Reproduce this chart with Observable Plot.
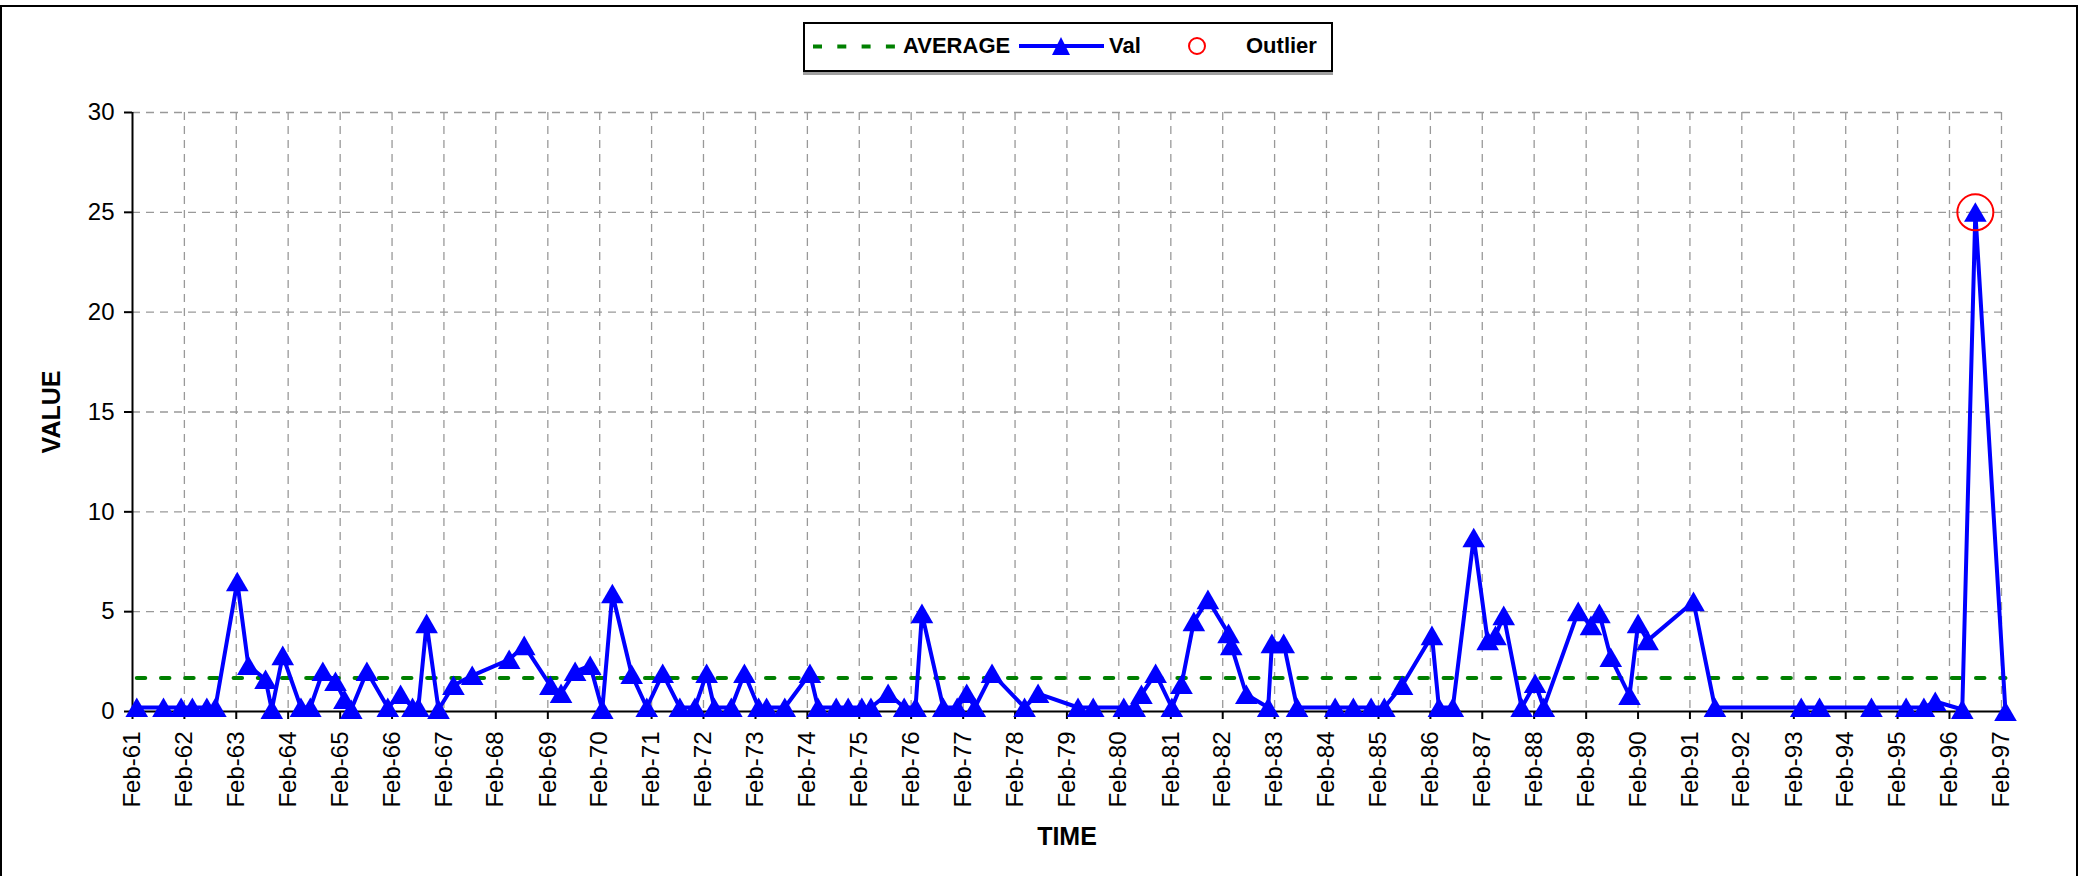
<!DOCTYPE html>
<html><head><meta charset="utf-8">
<script src="https://cdn.jsdelivr.net/npm/d3@7"></script>
<script src="https://cdn.jsdelivr.net/npm/@observablehq/plot@0.6"></script>
<style>
html,body{margin:0;padding:0;background:#fff;}
#wrap{position:relative;width:2085px;height:876px;overflow:hidden;font-family:"Liberation Sans",Arial,sans-serif;}
#frame{position:absolute;left:0;top:5px;width:2074px;height:900px;border:2px solid #000;box-sizing:content-box;}
#chart{position:absolute;left:0;top:0;}
#legend{position:absolute;left:803px;top:22px;width:526px;height:46px;border:2px solid #000;background:#fff;box-shadow:0 3px 0 #a0a0a0;}
#legend svg{position:absolute;left:0;top:0;}
.lt{position:absolute;font-weight:bold;font-size:22px;line-height:22px;top:11px;color:#000;white-space:nowrap;}
g[aria-label="x-axis label"] text, g[aria-label="y-axis label"] text{font-weight:bold;font-size:25px;}
</style>
</head><body>
<div id="wrap">
  <div id="frame"></div>
  <div id="chart"></div>
  <div id="legend">
    <svg width="526" height="46">
      <line x1="8" x2="90" y1="22.5" y2="22.5" stroke="#008000" stroke-width="4" stroke-dasharray="9,15.3"/>
      <line x1="214" x2="299" y1="22" y2="22" stroke="#0000ff" stroke-width="4"/>
      <path d="M256,13 L265,31 L247,31 Z" fill="#0000ff"/>
      <circle cx="392" cy="22" r="8" fill="none" stroke="#ff0000" stroke-width="2"/>
    </svg>
    <span class="lt" style="left:98px">AVERAGE</span>
    <span class="lt" style="left:304px">Val</span>
    <span class="lt" style="left:441px">Outlier</span>
  </div>
</div>
<script>
// Observation dates and values (series "Val")
const dates = [
  "1961-03-03","1961-09-07","1962-01-09","1962-03-29","1962-07-09","1962-09-07",
  "1963-02-08","1963-04-27","1963-08-26","1963-10-09","1963-12-25",
  "1964-05-01","1964-07-06","1964-10-02","1964-12-30",
  "1965-03-03","1965-04-20","1965-08-08",
  "1966-01-02","1966-04-02","1966-06-25","1966-08-05","1966-10-02","1966-12-25",
  "1967-04-09","1967-08-19",
  "1968-05-05","1968-08-19",
  "1969-02-19","1969-05-05","1969-08-12","1969-11-26",
  "1970-02-19","1970-05-01","1970-09-14","1970-12-29",
  "1971-04-20","1971-08-19","1971-12-03",
  "1972-02-23","1972-04-17","1972-08-15","1972-11-15",
  "1973-02-23","1973-04-20","1973-08-26",
  "1974-02-19","1974-04-17","1974-08-23","1974-11-15",
  "1975-02-19","1975-04-24","1975-08-23","1975-12-14",
  "1976-03-03","1976-04-17","1976-09-14","1976-12-21",
  "1977-02-26","1977-04-24","1977-08-23",
  "1978-04-09","1978-07-13",
  "1979-04-20","1979-08-05",
  "1980-03-07","1980-05-23","1980-07-09","1980-10-17",
  "1981-02-08","1981-04-17","1981-07-13","1981-10-20",
  "1982-03-14","1982-04-02","1982-07-17","1982-12-18",
  "1983-01-13","1983-04-06","1983-07-09",
  "1984-04-02","1984-08-08","1984-12-11",
  "1985-03-14","1985-07-17",
  "1986-02-12","1986-04-02","1986-07-09","1986-12-03",
  "1987-03-11","1987-05-05","1987-07-02","1987-11-05",
  "1988-02-08","1988-04-09","1988-12-07",
  "1989-03-07","1989-05-05","1989-07-24","1989-12-03",
  "1990-02-01","1990-04-09",
  "1991-02-26","1991-07-27",
  "1993-03-25","1993-08-01",
  "1994-08-01",
  "1995-04-02","1995-08-05","1995-10-24",
  "1996-05-01","1996-08-01",
  "1997-03-01"
];
const values = [
  0.2,0.2,0.2,0.2,0.2,0.2,
  6.5,2.3,1.6,0.1,2.8,
  0.2,0.2,2.0,1.5,
  0.6,0.1,2.0,
  0.2,0.85,0.2,0.2,4.4,0.1,
  1.3,1.8,
  2.6,3.3,
  1.3,0.9,2.0,2.3,
  0.1,5.9,1.85,0.2,
  1.9,0.2,0.2,
  1.9,0.2,0.2,1.9,
  0.2,0.2,0.2,
  1.9,0.2,0.2,0.2,
  0.2,0.2,0.9,0.2,
  0.2,4.9,0.2,0.2,
  0.9,0.2,1.9,
  0.2,0.9,
  0.2,0.2,
  0.2,0.2,0.85,1.9,
  0.2,1.35,4.5,5.6,
  3.9,3.3,0.85,0.2,
  3.4,3.4,0.2,
  0.2,0.2,0.2,
  0.2,1.3,
  3.8,0.2,0.2,8.7,
  3.55,3.8,4.8,0.2,
  1.4,0.2,5.0,
  4.3,4.9,2.7,0.8,
  4.4,3.55,
  5.5,0.2,
  0.2,0.2,
  0.2,
  0.2,0.2,0.5,
  0.1,25.0,
  0.0
];
const averageValue = 1.68;
const outlierDates = ["1996-08-01"];
const outlierValues = [25.0];
const yTicks = [0, 5, 10, 15, 20, 25, 30];
const tickYears = d3.range(1961, 1998);
const axisStart = "1961-02-01";
const axisEnd = "1997-02-01";

const parse = s => new Date(s + "T00:00:00Z");
const data = dates.map((d, i) => ({date: parse(d), value: values[i]}));
const avgData = [
  {date: parse(dates[0]), value: averageValue},
  {date: parse(dates[dates.length - 1]), value: averageValue}
];
const outliers = outlierDates.map((d, i) => ({date: parse(d), value: outlierValues[i]}));
const xTicks = tickYears.map(y => new Date(Date.UTC(y, 1, 1)));
const fmt = d3.utcFormat("%b-%y");

const gridStyle = {stroke: "#999", strokeOpacity: 1, strokeDasharray: "8,6", strokeWidth: 1.3};

const chart = Plot.plot({
  width: 2085,
  height: 876,
  marginLeft: 132,
  marginRight: 84,
  marginTop: 112,
  marginBottom: 165,
  style: {fontFamily: '"Liberation Sans", Arial, sans-serif', fontSize: "24px", background: "transparent", overflow: "visible"},
  x: {type: "utc", domain: [parse(axisStart), parse(axisEnd)]},
  y: {domain: [0, 30]},
  marks: [
    Plot.gridX(xTicks.slice(1), gridStyle),
    Plot.gridY(yTicks.slice(1), gridStyle),
    Plot.axisY(yTicks, {tickSize: 8, tickPadding: 10, fontSize: 24, strokeWidth: 2, label: "VALUE", labelAnchor: "center", labelArrow: "none", labelOffset: 90}),
    Plot.axisX(xTicks, {tickSize: 8, tickPadding: 12, fontSize: 24, strokeWidth: 2, tickRotate: -90, tickFormat: fmt, label: "TIME", labelAnchor: "center", labelArrow: "none", labelOffset: 133}),
    Plot.ruleX([parse(axisStart)], {stroke: "#000", strokeWidth: 2}),
    Plot.ruleY([0], {stroke: "#000", strokeWidth: 2}),
    Plot.line(avgData, {x: "date", y: "value", stroke: "#008000", strokeWidth: 4, strokeDasharray: "8.5,15.7"}),
    Plot.line(data, {x: "date", y: "value", stroke: "#0000ff", strokeWidth: 4}),
    Plot.dot(data, {x: "date", y: "value", symbol: "triangle", r: 8.4, fill: "#0000ff", dy: 3}),
    Plot.dot(outliers, {x: "date", y: "value", r: 18, stroke: "#ff0000", strokeWidth: 2, fill: "none"})
  ]
});
document.getElementById("chart").appendChild(chart);
</script>
</body></html>
